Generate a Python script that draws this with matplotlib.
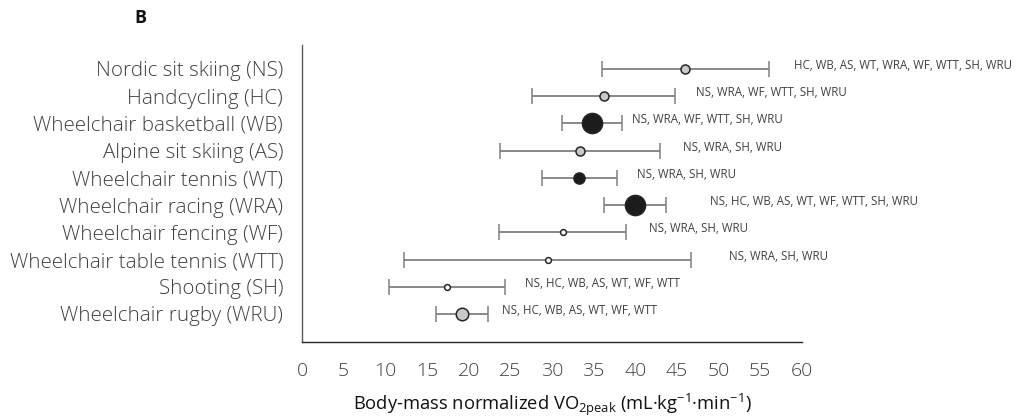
import matplotlib
matplotlib.use("Agg")
import matplotlib.pyplot as plt

plt.rcParams['font.family'] = ['Open Sans', 'DejaVu Sans']
plt.rcParams['mathtext.fontset'] = 'custom'
plt.rcParams['mathtext.rm'] = 'Open Sans'
plt.rcParams['mathtext.it'] = 'Open Sans'
plt.rcParams['mathtext.bf'] = 'Open Sans:bold'

# Sports (top to bottom) and their peak oxygen uptake (mean and SD)
sports = [
    "Nordic sit skiing (NS)",
    "Handcycling (HC)",
    "Wheelchair basketball (WB)",
    "Alpine sit skiing (AS)",
    "Wheelchair tennis (WT)",
    "Wheelchair racing (WRA)",
    "Wheelchair fencing (WF)",
    "Wheelchair table tennis (WTT)",
    "Shooting (SH)",
    "Wheelchair rugby (WRU)",
]
vo2_mean = [46.0, 36.2, 34.8, 33.4, 33.3, 40.0, 31.3, 29.5, 17.4, 19.2]
vo2_sd = [10.0, 8.6, 3.6, 9.6, 4.5, 3.7, 7.6, 17.2, 7.0, 3.1]
# Sports that differ significantly from each one
differs_from = [
    "HC, WB, AS, WT, WRA, WF, WTT, SH, WRU",
    "NS, WRA, WF, WTT, SH, WRU",
    "NS, WRA, WF, WTT, SH, WRU",
    "NS, WRA, SH, WRU",
    "NS, WRA, SH, WRU",
    "NS, HC, WB, AS, WT, WF, WTT, SH, WRU",
    "NS, WRA, SH, WRU",
    "NS, WRA, SH, WRU",
    "NS, HC, WB, AS, WT, WF, WTT",
    "NS, HC, WB, AS, WT, WF, WTT",
]
x_ticks = list(range(0, 61, 5))

# Marker styling per sport
GRAY, BLACK, WHITE = "#c9c9c9", "#1c1c1c", "#ffffff"
marker_fill = [GRAY, GRAY, BLACK, GRAY, BLACK, BLACK, WHITE, WHITE, WHITE, GRAY]
marker_size = [6.5, 6.5, 14.5, 6.5, 8.0, 14.5, 4.2, 4.2, 4.2, 9.0]
# Horizontal gap (points) between whisker end and its annotation
label_gap = [18.5, 15.0, 7.2, 16.5, 14.4, 31.5, 16.5, 27.5, 14.4, 10.0]

fig = plt.figure(figsize=(10.25, 4.19), dpi=100)
ax = fig.add_axes([0.2946, 0.1838, 0.4878, 0.7088])

text_col = "#404040"
for i in range(len(sports)):
    ax.errorbar(vo2_mean[i], i, xerr=vo2_sd[i], fmt="o",
                ecolor="#808080", elinewidth=1.3, capsize=5.5, capthick=1.3,
                marker="o", markersize=marker_size[i],
                markerfacecolor=marker_fill[i], markeredgecolor="#262626",
                markeredgewidth=1.1, zorder=3)
    ax.annotate(differs_from[i], xy=(vo2_mean[i] + vo2_sd[i], i),
                xytext=(label_gap[i], 2.5), textcoords="offset points",
                ha="left", va="center", fontsize=8.3, color=text_col)

ax.set_xlim(0, 60)
ax.set_ylim(len(sports) - 1 + 1.03, -0.88)
ax.set_xticks(x_ticks)
ax.set_xticklabels([str(t) for t in x_ticks])
ax.set_yticks(range(len(sports)))
ax.set_yticklabels(sports)
ax.tick_params(axis="x", length=0, pad=14.5, labelsize=14, labelcolor=text_col)
ax.tick_params(axis="y", length=0, pad=13.5, labelsize=14.8, labelcolor=text_col)
for lab in ax.get_xticklabels() + ax.get_yticklabels():
    lab.set_fontweight("light")

for side in ("top", "right"):
    ax.spines[side].set_visible(False)
ax.spines["left"].set_color("#595959")
ax.spines["bottom"].set_color("#262626")
ax.spines["left"].set_linewidth(1.0)
ax.spines["bottom"].set_linewidth(1.0)

ax.set_xlabel(r"Body-mass normalized VO$_{\mathregular{2peak}}$ (mL·kg$^{\mathregular{-1}}$·min$^{\mathregular{-1}}$)",
              fontsize=13.2, color="#111111", labelpad=8)

fig.text(0.1366, 0.957, "B", fontsize=13, fontweight="bold", color="#111111",
         ha="center", va="center")

fig.savefig("out.png", dpi=100)
